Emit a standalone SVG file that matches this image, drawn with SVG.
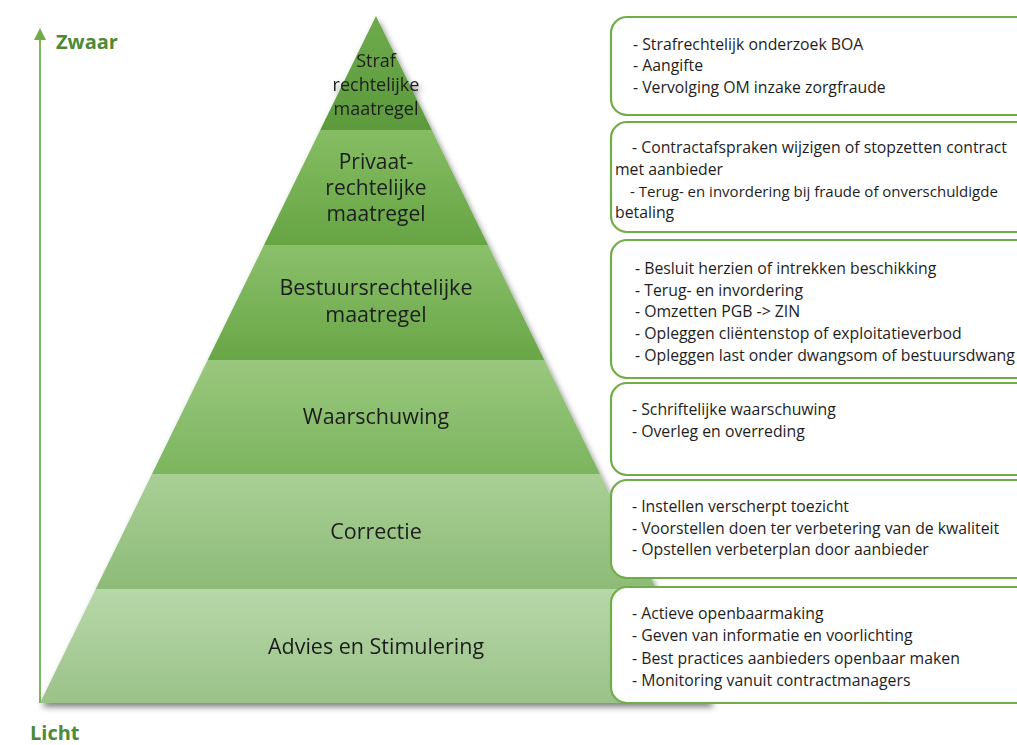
<svg xmlns="http://www.w3.org/2000/svg" width="1017" height="745" viewBox="0 0 1017 745">
<defs>
<style>
.lbl{font-family:"Open Sans","Noto Sans","Liberation Sans",sans-serif;fill:#1e1e1e;text-anchor:middle}
.box{fill:#fff;stroke:#70ad47;stroke-width:2.2}
.bt{font-family:"Open Sans","Noto Sans","Liberation Sans",sans-serif;font-size:15.8px;fill:#1e1e1e}
.ax{font-family:"Open Sans","Noto Sans","Liberation Sans",sans-serif;font-weight:bold;font-size:20px;fill:#4e8a35}
</style>
<linearGradient id="g1" x1="0" y1="0" x2="0" y2="1"><stop offset="0" stop-color="#6eaa4c"/><stop offset="1" stop-color="#5c9a3d"/></linearGradient>
<linearGradient id="g2" x1="0" y1="0" x2="0" y2="1"><stop offset="0" stop-color="#86bd64"/><stop offset="1" stop-color="#66a443"/></linearGradient>
<linearGradient id="g3" x1="0" y1="0" x2="0" y2="1"><stop offset="0" stop-color="#8bc06b"/><stop offset="1" stop-color="#69a647"/></linearGradient>
<linearGradient id="g4" x1="0" y1="0" x2="0" y2="1"><stop offset="0" stop-color="#99c77e"/><stop offset="1" stop-color="#7cb55e"/></linearGradient>
<linearGradient id="g5" x1="0" y1="0" x2="0" y2="1"><stop offset="0" stop-color="#a9cf96"/><stop offset="1" stop-color="#8dbb77"/></linearGradient>
<linearGradient id="g6" x1="0" y1="0" x2="0" y2="1"><stop offset="0" stop-color="#b7d8a9"/><stop offset="1" stop-color="#9bc289"/></linearGradient>
<filter id="sh" x="-10%" y="-10%" width="120%" height="120%"><feGaussianBlur in="SourceAlpha" stdDeviation="3"/><feOffset dx="2" dy="4"/><feComponentTransfer><feFuncA type="linear" slope="0.5"/></feComponentTransfer><feMerge><feMergeNode/><feMergeNode in="SourceGraphic"/></feMerge></filter>
</defs>
<rect width="1017" height="745" fill="#fff"/>

<g id="connectors">
<line x1="40" y1="703" x2="40" y2="38" stroke="#7db85a" stroke-width="2"/>
<path d="M34,40 L40,28 L46,40 Z" fill="#70ad47"/>
</g>

<g id="pyramid" filter="url(#sh)">
<g id="tier-straf"><polygon points="376,16 431.8,130 320.2,130" fill="url(#g1)"/>
<text class="lbl" font-size="18"><tspan x="376" y="67">Straf</tspan><tspan x="376" y="91">rechtelijke</tspan><tspan x="376" y="115">maatregel</tspan></text></g>
<g id="tier-privaat"><polygon points="320.2,130 431.8,130 488,245 264,245" fill="url(#g2)"/>
<text class="lbl" font-size="21"><tspan x="376" y="169">Privaat-</tspan><tspan x="376" y="195">rechtelijke</tspan><tspan x="376" y="221">maatregel</tspan></text></g>
<g id="tier-bestuur"><polygon points="264,245 488,245 544.3,360 207.7,360" fill="url(#g3)"/>
<text class="lbl" font-size="21.5"><tspan x="376" y="295">Bestuursrechtelijke</tspan><tspan x="376" y="322">maatregel</tspan></text></g>
<g id="tier-waarschuwing"><polygon points="207.7,360 544.3,360 600,474 152,474" fill="url(#g4)"/>
<text class="lbl" font-size="21.5" x="376" y="424">Waarschuwing</text></g>
<g id="tier-correctie"><polygon points="152,474 600,474 656.3,589 95.7,589" fill="url(#g5)"/>
<text class="lbl" font-size="21.5" x="376" y="539">Correctie</text></g>
<g id="tier-advies"><polygon points="95.7,589 656.3,589 712,703 40,703" fill="url(#g6)"/>
<text class="lbl" font-size="21.5" x="376" y="654">Advies en Stimulering</text></g>
</g>

<g id="axis-labels">
<text class="ax" x="56" y="49">Zwaar</text>
<text class="ax" x="30" y="740">Licht</text>
</g>

<g id="box1"><rect class="box" x="611" y="17" width="430" height="98" rx="16"/>
<text class="bt"><tspan x="633" y="50">- Strafrechtelijk onderzoek BOA</tspan><tspan x="633" y="71">- Aangifte</tspan><tspan x="633" y="93">- Vervolging OM inzake zorgfraude</tspan></text></g>
<g id="box2"><rect class="box" x="611" y="122" width="430" height="110" rx="16"/>
<text class="bt"><tspan x="632" y="153">- Contractafspraken wijzigen of stopzetten contract</tspan><tspan x="615" y="175">met aanbieder</tspan></text>
<text class="bt" x="630" y="197" style="font-size:15px">- Terug- en invordering bij fraude of onverschuldigde</text>
<text class="bt" x="615" y="218">betaling</text></g>
<g id="box3"><rect class="box" x="611" y="240" width="430" height="138" rx="16"/>
<text class="bt"><tspan x="635" y="274">- Besluit herzien of intrekken beschikking</tspan><tspan x="635" y="296">- Terug- en invordering</tspan><tspan x="635" y="317">- Omzetten PGB -&gt; ZIN</tspan><tspan x="635" y="339">- Opleggen cliëntenstop of exploitatieverbod</tspan><tspan x="635" y="361">- Opleggen last onder dwangsom of bestuursdwang</tspan></text></g>
<g id="box4"><rect class="box" x="611" y="383" width="430" height="92" rx="16"/>
<text class="bt"><tspan x="632" y="415">- Schriftelijke waarschuwing</tspan><tspan x="632" y="437">- Overleg en overreding</tspan></text></g>
<g id="box5"><rect class="box" x="611" y="480" width="430" height="98" rx="16"/>
<text class="bt"><tspan x="632" y="512">- Instellen verscherpt toezicht</tspan><tspan x="632" y="534">- Voorstellen doen ter verbetering van de kwaliteit</tspan><tspan x="632" y="555">- Opstellen verbeterplan door aanbieder</tspan></text></g>
<g id="box6"><rect class="box" x="611" y="587" width="430" height="116" rx="16"/>
<text class="bt"><tspan x="632" y="619">- Actieve openbaarmaking</tspan><tspan x="632" y="641">- Geven van informatie en voorlichting</tspan><tspan x="632" y="664">- Best practices aanbieders openbaar maken</tspan><tspan x="632" y="686">- Monitoring vanuit contractmanagers</tspan></text></g>
</svg>
